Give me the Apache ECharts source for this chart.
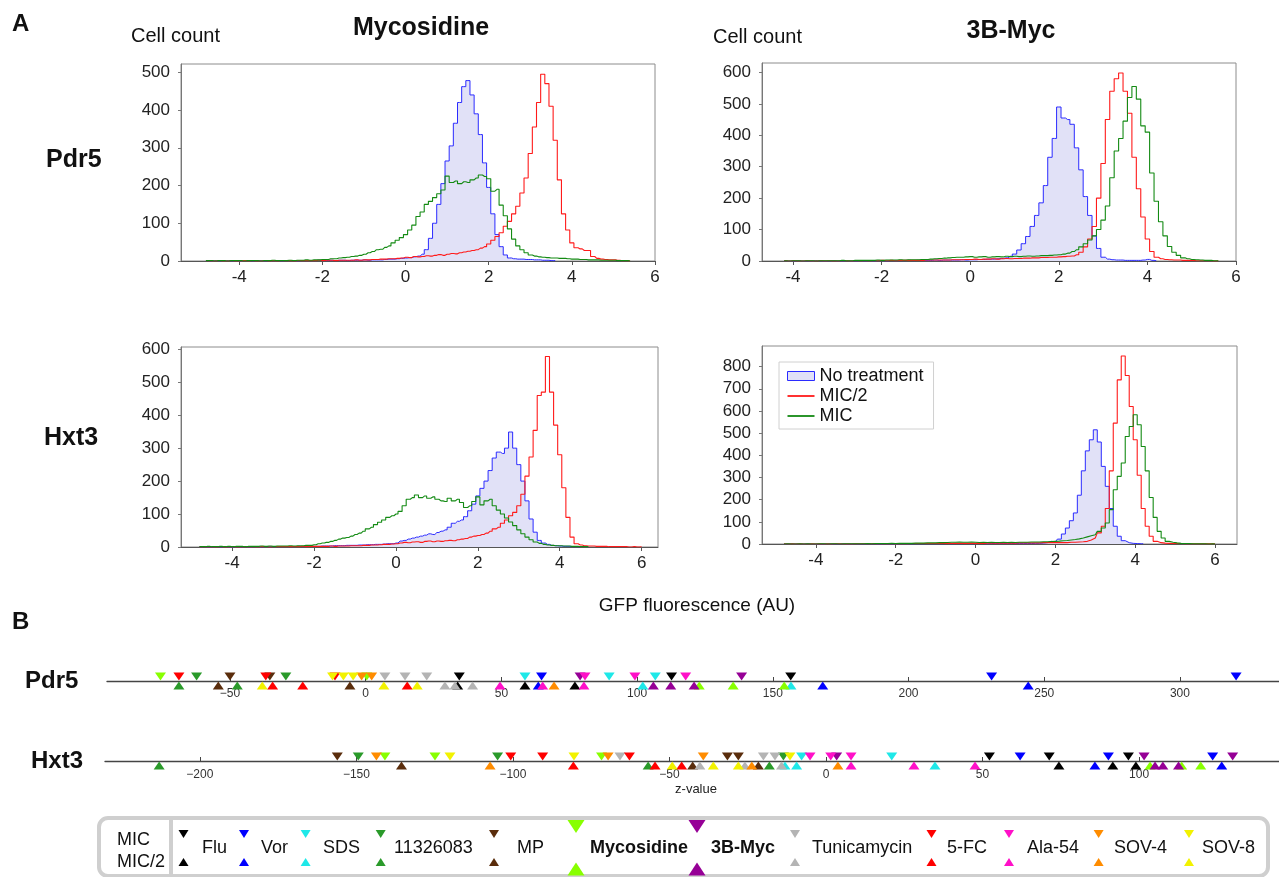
<!DOCTYPE html>
<html><head><meta charset="utf-8">
<script src="https://cdn.jsdelivr.net/npm/echarts@6/dist/echarts.min.js"></script>
<style>html,body{margin:0;padding:0;background:#fff}#c{width:1279px;height:877px}</style>
</head><body><div id="c"></div>
<script>
// ---------- Panel A histograms: counts per 0.1 bin, starting at the given x ----------
const binStep = 0.1;
const xTicks = [-4, -2, 0, 2, 4, 6];

// Mycosidine / Pdr5
const tlStart = -4.8;
const tlBlue = [
1,0,1,0,1,1,0,1,0,1, 1,0,1,1,0,1,1,1,0,1, 1,1,0,1,1,1,1,2,1,1, 2,1,2,2,1,2,2,2,3,2,
3,3,3,4,5,5,6,7,8,9, 11,13,18,30,60,100,150,205,265,305, 365,420,462,478,440,390,335,260,195,125,
70,38,16,8,6,5,5,4,4,3, 3,2,2,1,1];
const tlRed = [
1,0,0,1,0,0,1,0,0,1, 0,1,0,0,1,0,1,0,1,1, 1,0,1,1,1,1,1,2,1,2, 2,1,2,2,2,2,3,2,3,3,
4,4,5,5,6,6,7,8,10,9, 12,11,12,14,13,15,17,15,18,20, 19,22,24,26,28,30,34,38,45,55,
65,75,92,105,125,145,180,220,285,355, 420,495,470,410,320,215,125,82,48,35, 32,28,28,12,7,5,4,3,3,2, 1,1,0];
const tlGreen = [
1,1,0,1,1,0,1,1,1,0, 1,1,1,0,1,1,2,1,1,1, 2,1,2,2,3,2,3,3,4,4, 6,6,8,9,10,12,13,15,18,22,
25,30,31,36,40,48,55,62,70,82, 95,118,130,150,158,168,178,188,225,208, 212,205,210,208,215,220,228,224,218,185,
190,148,120,85,58,40,30,22,16,13, 11,10,9,8,8,7,7,6,5,5, 4,4,3,3,3,2,2,2,2,1, 1,1,0];

// 3B-Myc / Pdr5
const trStart = -4.2;
const trBlue = [
1,0,0,1,0,0,0,1,0,0, 0,1,0,0,1,0,0,1,0,1, 0,1,1,0,1,1,1,1,2,1, 2,2,2,2,3,2,3,3,3,3,
4,3,4,4,5,5,6,6,7,8, 10,15,22,35,55,78,110,145,185,240, 330,390,490,455,450,435,360,290,205,145,
80,40,12,6,4,3,3,2,2,2, 2,3,5,2,1];
const trRed = [
1,0,1,0,0,1,0,0,1,0, 1,0,0,1,1,0,1,1,1,1, 1,1,2,1,2,1,2,2,2,2, 2,2,3,3,3,3,3,3,4,4,
4,5,5,6,5,6,6,7,6,7, 8,7,8,8,9,9,10,10,11,11, 12,12,13,14,15,16,20,28,45,70,
110,200,310,450,540,580,598,540,470,330, 230,140,70,30,12,7,5,4,3,3, 2,2,2,1,1,1,1,0,1];
const trGreen = [
1,0,1,1,0,1,1,0,1,1, 1,1,1,2,1,1,2,2,2,2, 2,3,2,3,3,3,4,3,4,4, 4,5,5,6,7,8,9,10,11,12,
12,13,14,12,13,14,12,13,14,13, 15,14,15,14,15,16,15,16,17,17, 18,19,20,22,25,30,36,45,55,67,
80,100,130,175,265,350,390,445,520,555, 515,430,410,280,190,125,80,46,28,18, 10,7,5,4,3,2,2,1,1];

// Mycosidine / Hxt3
const blStart = -4.8;
const blBlue = [
0,1,0,0,1,0,1,0,0,1, 0,1,0,1,1,0,1,1,1,1, 1,1,1,1,2,1,2,2,2,2, 3,3,3,4,4,4,5,5,5,6,
6,7,7,8,8,9,10,10,12,18, 20,24,27,30,33,36,40,38,44,48, 52,60,72,78,82,92,110,130,155,178,
200,232,270,288,284,300,349,300,250,200, 140,85,45,20,12,8,5,4,3,2, 2,1,1,1];
const blRed = [
0,1,0,0,0,1,0,0,1,0, 0,1,0,1,0,1,1,0,1,1, 1,1,1,1,1,2,1,2,2,2, 2,2,3,2,3,3,3,4,4,4,
5,5,6,6,7,8,8,9,10,12, 14,13,15,16,14,17,18,16,18,17, 19,20,19,22,24,26,30,33,35,38,
42,48,55,60,72,82,95,105,125,160, 215,273,354,460,470,578,470,370,280,180, 90,30,10,6,4,3,3,2,2,2, 1,1,1,1,1,0,1,0,1];
const blGreen = [
1,1,2,1,1,2,1,2,1,2, 2,1,2,2,2,3,2,3,2,3, 3,3,4,3,4,4,5,5,7,10, 12,14,17,20,24,27,29,33,38,42,
48,55,60,68,75,82,90,95,100,108, 125,145,150,158,150,155,148,152,145,140, 138,148,140,145,135,120,125,138,152,128,
140,145,125,112,100,88,76,65,52,40, 30,22,15,11,8,6,5,4,4,3, 3,2,2,1,1,1];

// 3B-Myc / Hxt3
const brStart = -4.8;
const brBlue = [
0,0,1,0,0,0,1,0,0,0, 0,1,0,0,0,1,0,0,1,0, 0,1,0,1,0,1,1,0,1,1, 1,1,1,1,1,1,1,1,1,1,
1,2,1,2,1,2,2,1,2,2, 2,1,2,2,2,2,2,2,2,2, 2,2,2,3,3,4,6,12,10,22,
45,72,105,140,220,330,420,470,515,460, 350,260,160,80,35,15,6,3,2,1, 1];
const brRed = [
1,0,1,0,1,0,0,1,0,1, 0,1,0,1,1,0,1,0,1,1, 1,1,1,2,1,1,2,1,2,1, 2,1,2,2,2,2,2,2,2,2,
2,3,2,3,3,3,3,3,3,4, 3,4,4,4,4,4,4,5,4,5, 5,5,5,5,5,6,6,6,6,7,
6,6,8,8,9,10,12,18,27,50, 80,160,330,545,740,848,760,620,470,310, 160,80,35,12,6,4,3,2,2,2, 1,1,1,1,1,1,1,1,1];
const brGreen = [
0,1,0,0,1,0,1,0,0,1, 1,0,1,1,0,1,1,1,1,1, 1,2,1,2,2,2,2,3,2,3, 3,3,3,4,4,4,5,5,5,6,
6,7,8,8,9,8,8,9,8,7, 8,7,8,7,7,8,7,8,7,8, 8,8,9,9,9,10,10,11,12,13,
15,16,18,20,23,27,32,37,42,57, 72,95,155,245,305,365,485,530,583,538, 440,330,210,120,57,27,12,8,5,3, 2,2,1,1,1,1,0,1,0];

// ---------- Panel B: z-values, one list per drug ----------
const drugs = ['Flu','Vor','SDS','11326083','MP','Mycosidine','3B-Myc','Tunicamycin','5-FC','Ala-54','SOV-4','SOV-8'];
const pdr5MIC = [
  [34.5, 112.7, 156.6], [64.8, 230.6, 320.7], [58.7, 89.7, 106.7], [-62.3, -29.4], [-50, -35.3],
  [-75.6, 0.4], [79.0, 138.5], [7.1, 14.5, 22.5], [-68.8, -36.8, -11.3], [80.8, 99.2, 117.9],
  [-1.5, 2.2], [-12.2, -8.2, -4.6]];
const pdr5MIC2 = [
  [33.9, 58.7, 77.1], [63.6, 168.4, 244.1], [102.1, 156.7], [-68.8, -47.3], [-54.3, -5.8],
  [122.9, 135.4, 154.2], [106.0, 112.4, 121.0], [29.2, 32.9, 39.4], [-34.3, -23.2, 15.3], [49.5, 65.2, 80.4],
  [69.4], [-38.1, 6.7, 19.0]];
const hxt3MIC = [
  [52.2, 71.3, 96.6], [62.0, 90.2, 123.5], [-7.8, 21.0], [-149.4, -104.9, -13.6], [-156.1, -31.5, -28.0],
  [-140.9, -124.9, -71.7], [3.4, 101.6, 129.9], [-65.8, -20.0, -16.3], [-100.7, -90.5, -62.8], [-5.1, 1.5, 8.0],
  [-143.6, -69.6, -39.2], [-120.1, -80.5, -11.5]];
const hxt3MIC2 = [
  [74.4, 91.6, 99.0], [85.9, 126.4], [-13.1, -9.4, 34.8], [-213.0, -56.8, -18.1], [-135.6, -42.6, -21.6],
  [103.5, 113.6, 119.7], [105.1, 107.6, 112.6], [-40.3, -25.9, -14.2], [-80.7, -54.6, -46.1], [8.0, 28.1, 47.6],
  [-107.3, -23.7, 3.8], [-49.1, -36.0, -28.0]];
const pdr5Ticks = [-50, 0, 50, 100, 150, 200, 250, 300];
const hxt3Ticks = [-200, -150, -100, -50, 0, 50, 100];

// ---------- styles ----------
const FONT = 'Liberation Sans, Arial, Helvetica, sans-serif';
const C_BLUE = '#2b2bff', C_RED = '#ff1a1a', C_GREEN = '#138a13', C_FILL = '#e1e1f7';
const drugColors = ['#000000','#0000ff','#1ee8e8','#2a9a2a','#5a2d0c','#88ff00','#960096','#b4b4b4','#ff0000','#ff10c8','#ff8c00','#f2f200'];

function pairs(start, arr){ return arr.map((v,i)=>[Math.round((start+i*binStep)*100)/100, v]); }

const panels = [
  {start: tlStart, b: tlBlue, r: tlRed, g: tlGreen, grid:{left:181, top:64, width:474, height:197}, x:[-5.4, 6], y:[0, 522], yt:[0,100,200,300,400,500]},
  {start: trStart, b: trBlue, r: trRed, g: trGreen, grid:{left:762, top:63, width:474, height:198}, x:[-4.7, 6], y:[0, 630], yt:[0,100,200,300,400,500,600]},
  {start: blStart, b: blBlue, r: blRed, g: blGreen, grid:{left:181, top:347, width:477, height:200}, x:[-5.25, 6.4], y:[0, 607], yt:[0,100,200,300,400,500,600]},
  {start: brStart, b: brBlue, r: brRed, g: brGreen, grid:{left:762, top:346, width:475, height:198}, x:[-5.35, 6.55], y:[0, 893], yt:[0,100,200,300,400,500,600,700,800]}
];

const grids = [], xAxes = [], yAxes = [], series = [];
panels.forEach((p, i) => {
  grids.push(Object.assign({show:true, borderColor:'#8c8c8c', borderWidth:1, backgroundColor:'transparent'}, p.grid));
  xAxes.push({type:'value', gridIndex:i, min:p.x[0], max:p.x[1],
    axisLine:{show:true, onZero:false, lineStyle:{color:'#555', width:1}},
    axisTick:{show:true, length:4, customValues:xTicks, lineStyle:{color:'#555'}},
    axisLabel:{customValues:xTicks, fontSize:17, color:'#222', margin:8, fontFamily:FONT},
    splitLine:{show:false}});
  yAxes.push({type:'value', gridIndex:i, min:p.y[0], max:p.y[1],
    axisLine:{show:true, onZero:false, lineStyle:{color:'#777', width:1}},
    axisTick:{show:true, length:3, customValues:p.yt, lineStyle:{color:'#777'}},
    axisLabel:{customValues:p.yt, fontSize:17, color:'#222', margin:11, fontFamily:FONT},
    splitLine:{show:false}});
  const common = {type:'line', xAxisIndex:i, yAxisIndex:i, step:'middle', symbol:'none', showSymbol:false, silent:true, animation:false};
  series.push(Object.assign({}, common, {name:'No treatment', data:pairs(p.start, p.b), lineStyle:{color:C_BLUE, width:1}, itemStyle:{color:C_BLUE}, areaStyle:{color:C_FILL, opacity:1}, z:2}));
  series.push(Object.assign({}, common, {name:'MIC/2', data:pairs(p.start, p.r), lineStyle:{color:C_RED, width:1.1}, itemStyle:{color:C_RED}, z:3}));
  series.push(Object.assign({}, common, {name:'MIC', data:pairs(p.start, p.g), lineStyle:{color:C_GREEN, width:1.1}, itemStyle:{color:C_GREEN}, z:4}));
});

// Panel B strip axes (grid bottom edge = the axis line, y = 0 there)
const strips = [
  {grid:{left:107, top:671, width:1172, height:10}, x:[-95.3, 336.5], ticks:pdr5Ticks, mic:pdr5MIC, mic2:pdr5MIC2, margin:7},
  {grid:{left:105, top:751, width:1174, height:10}, x:[-230.3, 144.7], ticks:hxt3Ticks, mic:hxt3MIC, mic2:hxt3MIC2, margin:8}
];
strips.forEach((s, k) => {
  const gi = 4 + k;
  grids.push(Object.assign({show:false}, s.grid));
  xAxes.push({type:'value', gridIndex:gi, min:s.x[0], max:s.x[1],
    axisLine:{show:true, onZero:false, lineStyle:{color:'#444', width:1.3}},
    axisTick:{show:true, inside:true, length:4, customValues:s.ticks, lineStyle:{color:'#444'}},
    axisLabel:{customValues:s.ticks, fontSize:12, color:'#333', margin:s.margin, fontFamily:FONT,
      formatter: v => (v < 0 ? '\u2212' + Math.abs(v) : String(v))},
    splitLine:{show:false}});
  yAxes.push({type:'value', gridIndex:gi, min:0, max:1, show:false});
  drugs.forEach((d, j) => {
    series.push({type:'scatter', name:d + ' MIC', xAxisIndex:gi, yAxisIndex:gi, clip:false, silent:true, animation:false,
      symbol:'triangle', symbolSize:[11, 8], symbolRotate:180, symbolOffset:[0, -4.5],
      itemStyle:{color:drugColors[j], opacity:1}, data:s.mic[j].map(v => [v, 0]), z:5});
    series.push({type:'scatter', name:d + ' MIC/2', xAxisIndex:gi, yAxisIndex:gi, clip:false, silent:true, animation:false,
      symbol:'triangle', symbolSize:[11, 8], symbolOffset:[0, 4.5],
      itemStyle:{color:drugColors[j], opacity:1}, data:s.mic2[j].map(v => [v, 0]), z:5});
  });
});

// ---------- static text and bottom legend ----------
function txt(x, y, text, size, opts) {
  return Object.assign({type:'text', x, y, style:Object.assign({text, fontSize:size, fontFamily:FONT, fill:'#111', verticalAlign:'middle', align:'left'}, (opts||{}))});
}
function tri(cx, cy, w, h, down, color) {
  const pts = down ? [[cx-w/2, cy-h/2],[cx+w/2, cy-h/2],[cx, cy+h/2]] : [[cx-w/2, cy+h/2],[cx+w/2, cy+h/2],[cx, cy-h/2]];
  return {type:'polygon', shape:{points:pts}, style:{fill:color}};
}
const graphics = [
  txt(12, 24, 'A', 24, {fontWeight:'bold'}),
  txt(131, 36, 'Cell count', 20),
  txt(421, 28, 'Mycosidine', 25, {fontWeight:'bold', align:'center'}),
  txt(46, 160, 'Pdr5', 25, {fontWeight:'bold'}),
  txt(713, 37, 'Cell count', 20),
  txt(1011, 31, '3B-Myc', 25, {fontWeight:'bold', align:'center'}),
  txt(44, 438, 'Hxt3', 25, {fontWeight:'bold'}),
  txt(697, 606, 'GFP fluorescence (AU)', 19, {align:'center'}),
  txt(12, 622, 'B', 24, {fontWeight:'bold'}),
  txt(25, 681, 'Pdr5', 24, {fontWeight:'bold'}),
  txt(31, 761, 'Hxt3', 24, {fontWeight:'bold'}),
  txt(696, 789, 'z-value', 13, {align:'center', fill:'#222'}),
  {type:'rect', shape:{x:99, y:818, width:1169, height:58, r:9}, style:{fill:'#fff', stroke:'#cfcfcf', lineWidth:4}},
  {type:'line', shape:{x1:171, y1:820, x2:171, y2:874}, style:{stroke:'#cfcfcf', lineWidth:4}},
  txt(117, 840, 'MIC', 18),
  txt(117, 862, 'MIC/2', 18)
];
const legendPos = [[183.5,202],[244,261],[305.6,323],[380.7,394],[494,517],[576,590],[697,711],[795,812],[931.5,947],[1009,1027],[1098.6,1114],[1189,1202]];
drugs.forEach((d, j) => {
  const big = (d === 'Mycosidine' || d === '3B-Myc');
  const [tx, lx] = legendPos[j];
  if (big) {
    graphics.push(tri(tx, 826.5, 17, 13, true, drugColors[j]));
    graphics.push(tri(tx, 869, 17, 13, false, drugColors[j]));
  } else {
    graphics.push(tri(tx, 834, 10, 8, true, drugColors[j]));
    graphics.push(tri(tx, 862, 10, 8, false, drugColors[j]));
  }
  graphics.push(txt(lx, 848, d, 18, big ? {fontWeight:'bold'} : {}));
});

const chart = echarts.init(document.getElementById('c'), null, {renderer:'canvas'});
chart.setOption({
  animation:false,
  backgroundColor:'#fff',
  grid:grids, xAxis:xAxes, yAxis:yAxes, series,
  legend:{
    left:779, top:362, orient:'vertical', selectedMode:false,
    itemWidth:27, itemHeight:9, itemGap:2, padding:[5, 10, 4, 8],
    borderColor:'#d0d0d0', borderWidth:1, backgroundColor:'#fff',
    textStyle:{fontSize:18, color:'#111', fontFamily:FONT},
    data:[
      {name:'No treatment', icon:'rect', itemStyle:{color:C_FILL, borderColor:C_BLUE, borderWidth:1}},
      {name:'MIC/2', icon:'path://M0,0H30V2H0Z', itemStyle:{color:C_RED, borderWidth:0}},
      {name:'MIC', icon:'path://M0,0H30V2H0Z', itemStyle:{color:C_GREEN, borderWidth:0}}
    ]
  },
  graphic:{elements:graphics}
});
</script></body></html>
